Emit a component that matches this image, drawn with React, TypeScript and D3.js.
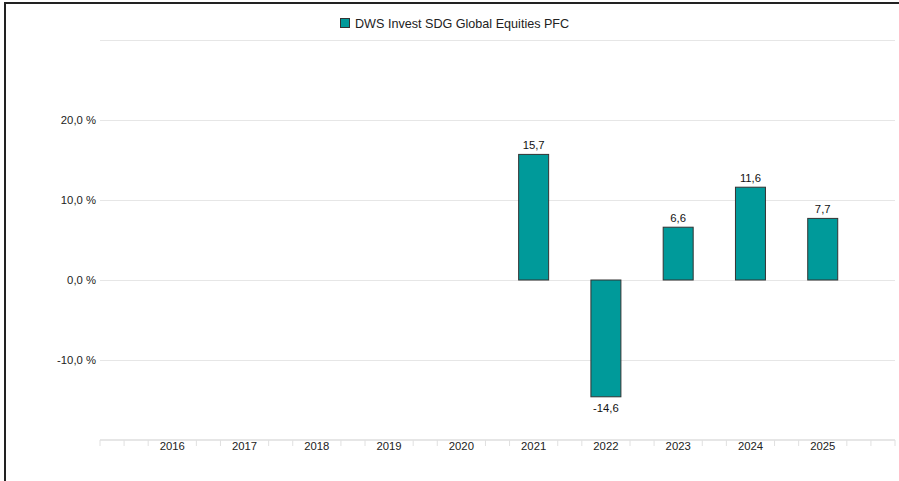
import * as d3 from "d3";
import React from "react";

// chart data
const years = ["2016", "2017", "2018", "2019", "2020", "2021", "2022", "2023", "2024", "2025"];
const returns: (number | null)[] = [null, null, null, null, null, 15.7, -14.6, 6.6, 11.6, 7.7];
const yTicks = [-20, -10, 0, 10, 20, 30];
const yTickLabels = ["", "-10,0 %", "0,0 %", "10,0 %", "20,0 %", ""];
const seriesName = "DWS Invest SDG Global Equities PFC";

const width = 899;
const height = 481;
const plotLeft = 100;
const plotRight = 895;
const plotTop = 40;
const plotBottom = 440;
const teal = "#009a9a";
const font = "'Liberation Sans', Arial, sans-serif";

const App = () => {
  const x = d3
    .scaleBand<string>()
    .domain(years)
    .range([plotLeft, plotRight])
    .paddingInner(0)
    .paddingOuter(0.5);
  const y = d3.scaleLinear().domain([-20, 30]).range([plotBottom, plotTop]);

  const step = x.step();
  const barWidth = step * 0.415;

  // minor ticks every third of a category, skipping the category centres
  const tickXs: number[] = [];
  const centres = years.map((yr) => (x(yr) as number) + step / 2);
  for (let t = plotLeft; t <= plotRight + 0.5; t += step / 3) {
    if (!centres.some((c) => Math.abs(c - t) < 2)) tickXs.push(t);
  }

  const fmt = (v: number) => v.toFixed(1).replace(".", ",");

  return (
    <div style={{ position: "fixed", left: 0, top: 0 }}>
      <svg width={width} height={height} style={{ display: "block", fontFamily: font }}>
        <rect x={0} y={0} width={width} height={height} fill="#fff" />
        {/* frame */}
        <rect x={5} y={3} width={width + 20} height={height + 20} fill="none" stroke="#222" strokeWidth={2} />

        {/* legend */}
        <rect x={340.5} y={18.5} width={9} height={9} fill={teal} stroke="#333" strokeWidth={1} />
        <text x={355} y={27.5} fontSize={12.6} fill="#222">
          {seriesName}
        </text>

        {/* gridlines */}
        {yTicks.map((t) => (
          <line
            key={t}
            x1={plotLeft}
            x2={plotRight}
            y1={y(t) + 0.5}
            y2={y(t) + 0.5}
            stroke="#e6e6e6"
            strokeWidth={1}
          />
        ))}
        {yTicks.map((t, i) => (
          <text key={"l" + t} x={96} y={y(t) + 4} fontSize={11.3} fill="#222" textAnchor="end">
            {yTickLabels[i]}
          </text>
        ))}

        {/* x axis */}
        <line x1={plotLeft} x2={plotRight} y1={plotBottom} y2={plotBottom} stroke="#e6e6e6" strokeWidth={2} />
        {tickXs.map((t, i) => (
          <line key={i} x1={t} x2={t} y1={plotBottom} y2={plotBottom + 6} stroke="#e0e0e0" strokeWidth={1} />
        ))}
        {years.map((yr) => (
          <text
            key={yr}
            x={(x(yr) as number) + step / 2}
            y={plotBottom + 10}
            fontSize={11.3}
            fill="#222"
            textAnchor="middle"
          >
            {yr}
          </text>
        ))}

        {/* bars */}
        {years.map((yr, i) => {
          const v = returns[i];
          if (v == null) return null;
          const cx = (x(yr) as number) + step / 2;
          const top = y(Math.max(v, 0));
          const bottom = y(Math.min(v, 0));
          return (
            <g key={"b" + yr}>
              <rect
                x={cx - barWidth / 2}
                y={top}
                width={barWidth}
                height={bottom - top}
                fill={teal}
                stroke="#333"
                strokeWidth={1}
              />
              <text
                x={cx}
                y={v >= 0 ? top - 5 : bottom + 15}
                fontSize={11.3}
                fill="#111"
                textAnchor="middle"
              >
                {fmt(v)}
              </text>
            </g>
          );
        })}
      </svg>
    </div>
  );
};

export default App;
